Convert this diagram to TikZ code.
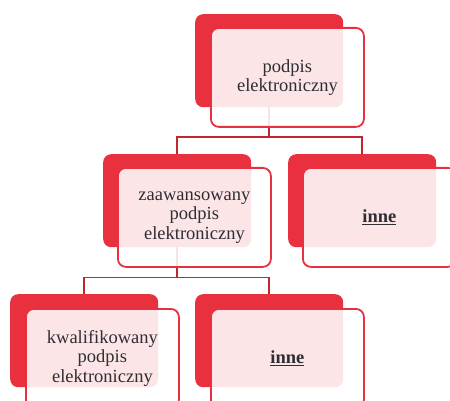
\documentclass[tikz,border=0pt]{standalone}
\usepackage{fontspec}
\setmainfont{Liberation Serif}
\newfontfamily\cardfont{Liberation Serif}
\definecolor{boxred}{HTML}{E8303E}
\definecolor{linkred}{HTML}{C0282F}
\definecolor{txt}{HTML}{2E2E33}
\tikzset{
  back/.style={fill=boxred, draw=none, rounded corners=8pt, inner sep=0pt,
    minimum width=148pt, minimum height=93pt, anchor=north west},
  front/.style={fill=white, fill opacity=0.88, text opacity=1, draw=boxred,
    line width=1.8pt, rounded corners=8pt, inner sep=0pt,
    minimum width=153pt, minimum height=99pt, anchor=north west,
    align=center, text=txt, font=\cardfont\fontsize{18.5}{19.3}\selectfont},
  link/.style={draw=linkred, line width=1.8pt},
}
\begin{document}
\begin{tikzpicture}[x=1pt,y=-1pt]
  \useasboundingbox (0,0) rectangle (450,401);
  \clip (0,0) rectangle (450,401);

  % solid red plates behind each entry
  \node[back] (tb) at (195,14) {};
  \node[back] (ab) at (103,154) {};
  \node[back] (bb) at (288,154) {};
  \node[back] (cb) at (10,294) {};
  \node[back] (db) at (195,294) {};

  % hierarchy links
  \path (tb.south) ++(0,30) coordinate (j1);
  \draw[link] (tb.south) -- (j1) -| (ab.north);
  \draw[link] (j1) -| (bb.north);
  \path (ab.south) ++(0,30) coordinate (j2);
  \draw[link] (ab.south) -- (j2) -| (cb.north);
  \draw[link] (j2) -| (db.north);

  % translucent text cards
  \node[front] (t) at (210,27) {podpis\\elektroniczny};
  \node[front] (a) at (117,167) {zaawansowany\\podpis\\elektroniczny};
  \node[front] (b) at (302,167) {\underline{\textbf{inne}}};
  \node[front] (c) at (25,308) {kwalifikowany\\podpis\\elektroniczny};
  \node[front] (d) at (210,308) {\underline{\textbf{inne}}};
\end{tikzpicture}
\end{document}
